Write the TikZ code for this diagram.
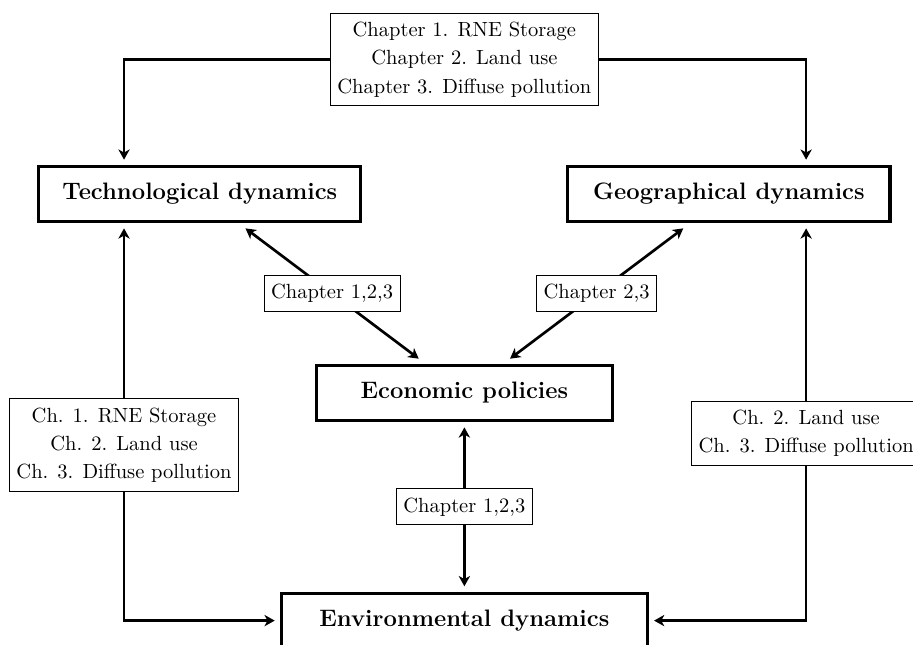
\documentclass[tikz,border=0pt]{standalone}
\usepackage{fontspec}
\usetikzlibrary{arrows.meta}
\begin{document}
\begin{tikzpicture}[
    dyn/.style={draw, line width=1.5pt, minimum height=0.945cm, outer sep=3.3pt,
      font=\fontsize{11.6}{13.5}\selectfont\bfseries},
    chap/.style={draw, line width=0.5pt, fill=white, align=center, inner xsep=3.4pt,
      inner ysep=4.3pt, outer sep=0pt, font=\fontsize{10}{13.8}\selectfont},
    >={Stealth[length=5pt,width=5.5pt,inset=1.5pt]}
  ]
  \useasboundingbox (0,0) rectangle (15.65,-11.04);
  \draw
    (7.96,-1.02) node[chap] (top){Chapter 1. RNE Storage\\Chapter 2. Land use\\Chapter 3. Diffuse pollution}
    (3.425,-3.326) node[dyn, minimum width=5.52cm] (tech){Technological dynamics}
    (12.495,-3.326) node[dyn, minimum width=5.52cm] (geo){Geographical dynamics}
    (7.96,-6.737) node[dyn, minimum width=5.07cm] (econ){Economic policies}
    (7.96,-10.638) node[dyn, minimum width=6.27cm] (env){Environmental dynamics}
    (2.126,-7.629) node[chap] (lab1){Ch. 1. RNE Storage\\Ch. 2. Land use\\Ch. 3. Diffuse pollution}
    (13.818,-7.432) node[chap] (lab2){Ch. 2. Land use\\Ch. 3. Diffuse pollution};
  \begin{scope}[line width=1.3pt]
    \draw[->] (top.west) -| (tech.north -| lab1);
    \draw[->] (top.east) -| (geo.north -| lab2);
    \draw[->] (lab1.north) -- (lab1 |- tech.south);
    \draw[->] (lab2.north) -- (lab2 |- geo.south);
    \draw[->] (lab1.south) |- (env);
    \draw[->] (lab2.south) |- (env);
    \draw[<->] (tech) to node[chap]{Chapter 1,2,3} (econ);
    \draw[<->] (geo) to node[chap]{Chapter 2,3} (econ);
    \draw[<->] (econ) to node[chap]{Chapter 1,2,3} (env);
  \end{scope}
\end{tikzpicture}
\end{document}
